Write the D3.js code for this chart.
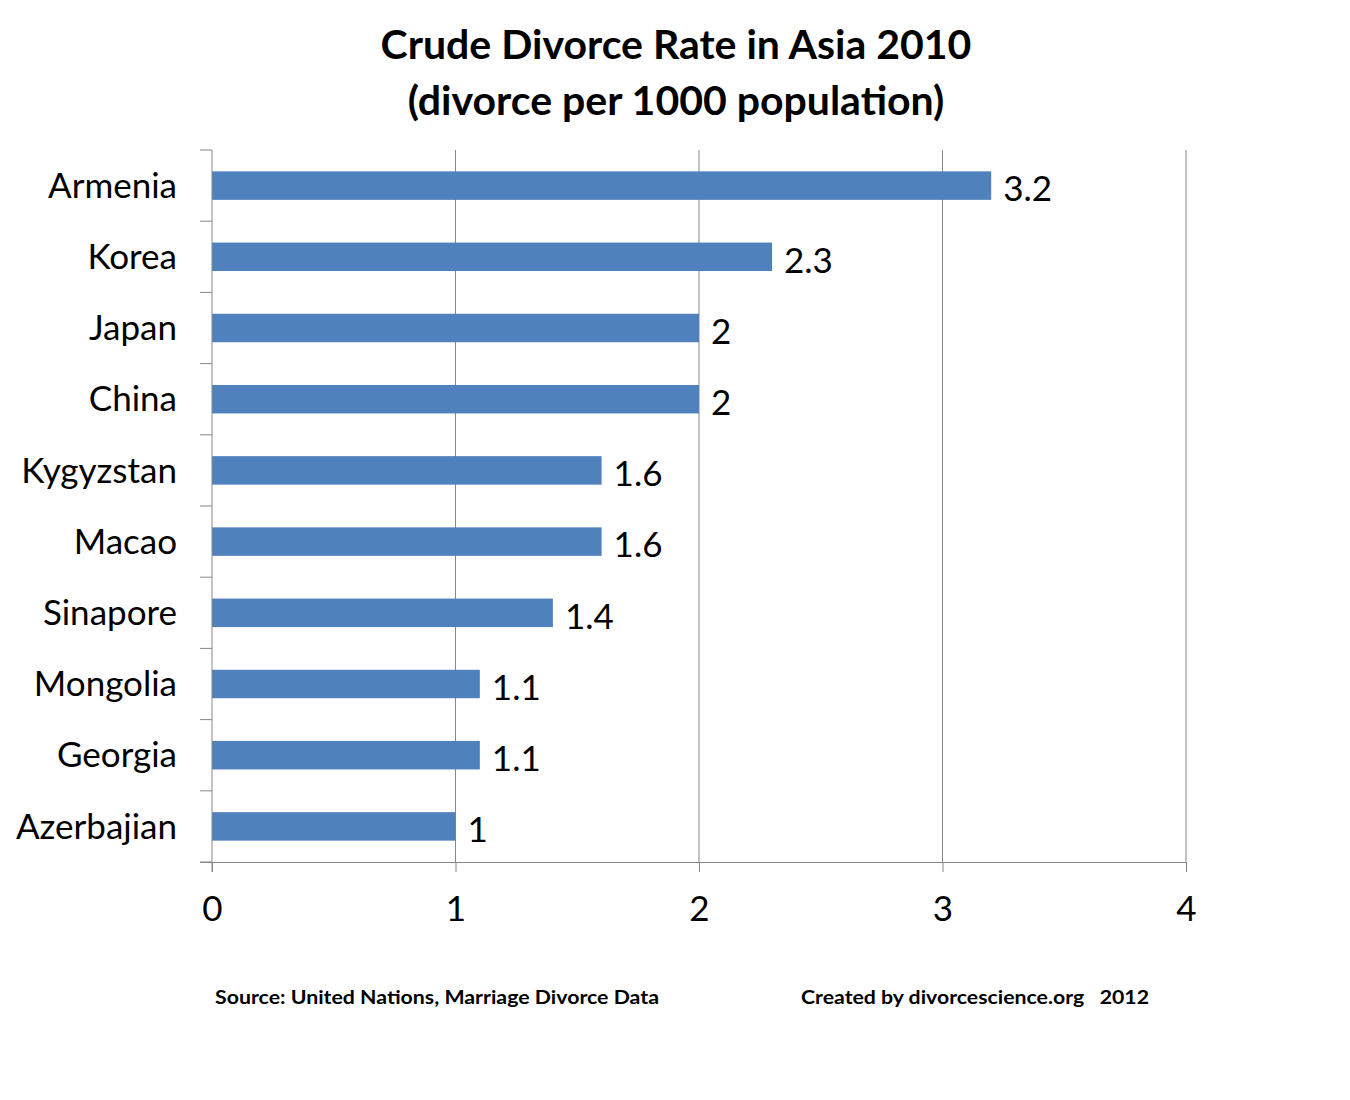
<!DOCTYPE html>
<html><head><meta charset="utf-8">
<script src="https://cdn.jsdelivr.net/npm/d3@7"></script>
<style>body{margin:0;background:#fff}svg{display:block}</style>
</head><body>
<svg id="c" width="1350" height="1100"></svg>
<script>
const categories = ["Armenia","Korea","Japan","China","Kygyzstan","Macao","Sinapore","Mongolia","Georgia","Azerbajian"];
const values = [3.2,2.3,2,2,1.6,1.6,1.4,1.1,1.1,1];
const xTicks = [0,1,2,3,4];
const titleLines = ["Crude Divorce Rate in Asia 2010","(divorce per 1000 population)"];
const footerLeft = "Source: United Nations, Marriage Divorce Data";
const footerRight = "Created by divorcescience.org   2012";

const svg = d3.select("#c");
const font = "Lato, 'Open Sans', sans-serif";
const m = {left:212, right:1186, top:150, bottom:862};
const x = d3.scaleLinear().domain([0,4]).range([m.left,m.right]);
const y = d3.scaleBand().domain(categories).range([m.top,m.bottom]).paddingInner(0.6).paddingOuter(0.3);
const grid = "#878787";

// title
svg.append("g").selectAll("text").data(titleLines).join("text")
  .attr("x",676).attr("y",(d,i)=>59+i*56).attr("text-anchor","middle")
  .attr("font-family",font).attr("font-weight","bold").attr("font-size",41).attr("fill","#000").text(d=>d);

// gridlines
svg.append("g").selectAll("line").data(xTicks.slice(1)).join("line")
  .attr("x1",d=>x(d)).attr("x2",d=>x(d)).attr("y1",m.top).attr("y2",m.bottom)
  .attr("stroke",grid).attr("stroke-width",1);

// bars
svg.append("g").selectAll("rect").data(values).join("rect")
  .attr("x",x(0)).attr("y",(d,i)=>y(categories[i])).attr("width",d=>x(d)-x(0)).attr("height",y.bandwidth())
  .attr("fill","#4f81bd");

// x axis
const xa = svg.append("g").attr("transform",`translate(0,${m.bottom})`)
  .call(d3.axisBottom(x).tickValues(xTicks).tickSize(10).tickPadding(24).tickFormat(d3.format("d")));
xa.select(".domain").attr("stroke",grid).attr("d",`M${m.left-12},0.5H${m.right}`);
xa.selectAll(".tick line").attr("stroke",grid);
xa.selectAll(".tick text").attr("font-family",font).attr("font-size",35).attr("fill","#000");

// y axis
const yBoundary = d3.range(categories.length+1).map(i=>m.top + i*(m.bottom-m.top)/categories.length);
const ya = svg.append("g");
ya.append("line").attr("x1",m.left).attr("x2",m.left).attr("y1",m.top).attr("y2",m.bottom+10).attr("stroke",grid);
ya.selectAll("line.t").data(yBoundary).join("line").attr("class","t")
  .attr("x1",m.left-12).attr("x2",m.left).attr("y1",d=>d).attr("y2",d=>d).attr("stroke",grid);
ya.selectAll("text").data(categories).join("text")
  .attr("x",177).attr("y",d=>y(d)+y.bandwidth()/2).attr("dy","0.35em").attr("text-anchor","end")
  .attr("font-family",font).attr("font-size",35).attr("fill","#000").text(d=>d);

// value labels
svg.append("g").selectAll("text").data(values).join("text")
  .attr("x",d=>x(d)+12).attr("y",(d,i)=>y(categories[i])+y.bandwidth()/2).attr("dy","0.45em")
  .attr("font-family",font).attr("font-size",35).attr("fill","#000").text(d=>d);

// footer
svg.append("text").attr("x",215).attr("y",1004).attr("font-family",font).attr("font-weight","bold")
  .attr("font-size",18).attr("textLength",444).attr("lengthAdjust","spacingAndGlyphs").text(footerLeft);
svg.append("text").attr("x",801).attr("y",1004).attr("font-family",font).attr("font-weight","bold")
  .attr("font-size",18).attr("textLength",348).attr("lengthAdjust","spacingAndGlyphs").attr("xml:space","preserve").style("white-space","pre").text(footerRight);
</script>
</body></html>
